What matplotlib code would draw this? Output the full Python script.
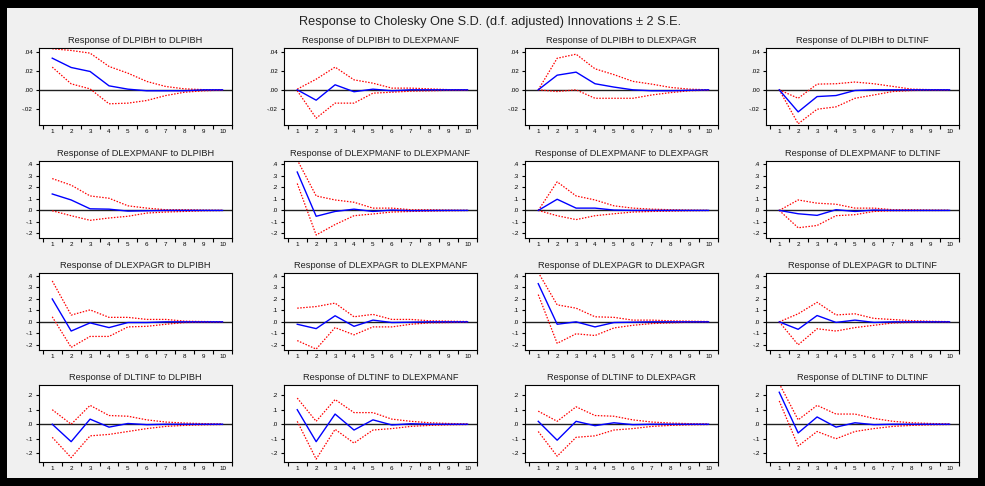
import matplotlib
matplotlib.use("Agg")
import matplotlib.pyplot as plt
from matplotlib.patches import Rectangle

plt.rcParams['font.family'] = ['Liberation Sans', 'DejaVu Sans']

variables = ["DLPIBH", "DLEXPMANF", "DLEXPAGR", "DLTINF"]
periods = [1, 2, 3, 4, 5, 6, 7, 8, 9, 10]
main_title = "Response to Cholesky One S.D. (d.f. adjusted) Innovations \u00b1 2 S.E."

# responses (rows: impulse variable in the order of `variables`)
resp_DLPIBH = [
    [0.0333, 0.0235, 0.0193, 0.0042, 0.0007, -0.001, -0.001, -0.001, 0.0, 0.0],
    [0.0, -0.0109, 0.0053, -0.002, 0.0007, -0.001, 0.0, 0.0, 0.0, 0.0],
    [0.0, 0.0154, 0.0186, 0.0064, 0.0029, 0.0, -0.001, -0.001, -0.0005, 0.0],
    [0.0, -0.0232, -0.0071, -0.006, -0.0007, 0.0, 0.0, 0.0, 0.0, 0.0],
]
upper_DLPIBH = [
    [0.0432, 0.0414, 0.0386, 0.0246, 0.0175, 0.0088, 0.0035, 0.001, 0.0002, 0.0],
    [0.0007, 0.0112, 0.0239, 0.0105, 0.007, 0.0018, 0.0018, 0.001, 0.0002, 0.0],
    [0.0, 0.0332, 0.0375, 0.0221, 0.016, 0.0089, 0.006, 0.0025, 0.0007, 0.0],
    [0.0, -0.0089, 0.006, 0.0064, 0.0082, 0.0064, 0.0036, 0.0007, 0.0002, 0.0],
]
lower_DLPIBH = [
    [0.0239, 0.0063, 0.001, -0.0147, -0.014, -0.0112, -0.006, -0.0025, -0.001, -0.0003],
    [-0.001, -0.0298, -0.014, -0.014, -0.0035, -0.0025, -0.0014, -0.001, -0.0005, -0.0003],
    [0.0, -0.0018, 0.0, -0.0089, -0.0089, -0.0089, -0.0054, -0.0029, -0.001, -0.0003],
    [0.0, -0.0357, -0.0204, -0.0179, -0.0089, -0.0054, -0.0018, -0.0007, -0.0003, -0.0002],
]

resp_DLEXPMANF = [
    [0.143, 0.091, 0.014, 0.011, -0.006, -0.003, 0.0, 0.0, 0.0, 0.0],
    [0.334, -0.051, -0.009, 0.011, -0.009, 0.003, -0.002, -0.001, 0.0, 0.0],
    [0.0, 0.097, 0.02, 0.02, 0.003, 0.0, 0.0, 0.0, 0.0, 0.0],
    [0.0, -0.029, -0.043, 0.006, -0.009, 0.003, 0.0, 0.0, 0.0, 0.0],
]
upper_DLEXPMANF = [
    [0.277, 0.22, 0.126, 0.106, 0.04, 0.02, 0.006, 0.006, 0.003, 0.001],
    [0.44, 0.126, 0.091, 0.071, 0.02, 0.02, 0.006, 0.006, 0.003, 0.001],
    [0.0, 0.249, 0.126, 0.091, 0.04, 0.02, 0.011, 0.006, 0.003, 0.001],
    [0.0, 0.091, 0.063, 0.054, 0.02, 0.02, 0.006, 0.006, 0.003, 0.001],
]
lower_DLEXPMANF = [
    [-0.003, -0.046, -0.086, -0.066, -0.051, -0.023, -0.014, -0.009, -0.003, -0.001],
    [0.234, -0.214, -0.123, -0.046, -0.031, -0.014, -0.009, -0.006, -0.003, -0.001],
    [0.0, -0.046, -0.08, -0.046, -0.029, -0.014, -0.009, -0.006, -0.003, -0.001],
    [0.0, -0.151, -0.131, -0.046, -0.037, -0.009, -0.003, -0.002, -0.001, 0.0],
]

resp_DLEXPAGR = [
    [0.199, -0.08, -0.009, -0.05, -0.006, -0.006, 0.0, 0.0, 0.0, 0.0],
    [-0.021, -0.059, 0.053, -0.039, 0.015, -0.006, -0.003, 0.0, 0.0, 0.0],
    [0.332, -0.021, 0.0, -0.044, -0.006, -0.003, 0.0, 0.0, 0.0, 0.0],
    [0.0, -0.065, 0.055, -0.005, 0.015, -0.005, 0.0, 0.0, 0.0, 0.0],
]
upper_DLEXPAGR = [
    [0.356, 0.059, 0.104, 0.039, 0.039, 0.021, 0.021, 0.006, 0.003, 0.001],
    [0.119, 0.133, 0.163, 0.044, 0.065, 0.021, 0.021, 0.009, 0.006, 0.003],
    [0.43, 0.148, 0.119, 0.044, 0.039, 0.015, 0.015, 0.009, 0.006, 0.003],
    [0.0, 0.07, 0.17, 0.06, 0.07, 0.03, 0.02, 0.01, 0.005, 0.002],
]
lower_DLEXPAGR = [
    [0.044, -0.222, -0.127, -0.127, -0.044, -0.039, -0.021, -0.006, -0.003, -0.001],
    [-0.163, -0.237, -0.05, -0.113, -0.044, -0.044, -0.021, -0.009, -0.006, -0.003],
    [0.237, -0.187, -0.104, -0.119, -0.053, -0.03, -0.015, -0.009, -0.003, -0.001],
    [0.0, -0.2, -0.06, -0.08, -0.05, -0.03, -0.01, -0.005, -0.002, -0.001],
]

resp_DLTINF = [
    [0.0, -0.12, 0.035, -0.02, 0.005, -0.003, 0.0, 0.0, 0.0, 0.0],
    [0.1, -0.12, 0.07, -0.04, 0.03, -0.005, 0.003, 0.0, 0.0, 0.0],
    [0.02, -0.11, 0.02, -0.01, 0.01, -0.003, 0.0, 0.0, 0.0, 0.0],
    [0.22, -0.06, 0.05, -0.02, 0.01, -0.003, 0.0, 0.0, 0.0, 0.0],
]
upper_DLTINF = [
    [0.1, 0.0, 0.13, 0.06, 0.055, 0.03, 0.015, 0.008, 0.004, 0.002],
    [0.18, 0.02, 0.17, 0.08, 0.08, 0.035, 0.02, 0.01, 0.005, 0.002],
    [0.09, 0.02, 0.12, 0.06, 0.055, 0.03, 0.015, 0.008, 0.004, 0.002],
    [0.28, 0.03, 0.13, 0.07, 0.07, 0.04, 0.02, 0.01, 0.005, 0.002],
]
lower_DLTINF = [
    [-0.09, -0.23, -0.08, -0.07, -0.05, -0.03, -0.015, -0.008, -0.004, -0.002],
    [0.02, -0.24, -0.035, -0.13, -0.04, -0.03, -0.015, -0.008, -0.004, -0.002],
    [-0.05, -0.22, -0.09, -0.08, -0.04, -0.03, -0.015, -0.008, -0.004, -0.002],
    [0.16, -0.15, -0.05, -0.1, -0.05, -0.03, -0.015, -0.008, -0.004, -0.002],
]

yticks_row1 = [0.04, 0.02, 0.0, -0.02]
yticklabels_row1 = [".04", ".02", ".00", "-.02"]
yticks_row23 = [0.4, 0.3, 0.2, 0.1, 0.0, -0.1, -0.2]
yticklabels_row23 = [".4", ".3", ".2", ".1", ".0", "-.1", "-.2"]
yticks_row4 = [0.2, 0.1, 0.0, -0.1, -0.2]
yticklabels_row4 = [".2", ".1", ".0", "-.1", "-.2"]

resp_all = [resp_DLPIBH, resp_DLEXPMANF, resp_DLEXPAGR, resp_DLTINF]
upper_all = [upper_DLPIBH, upper_DLEXPMANF, upper_DLEXPAGR, upper_DLTINF]
lower_all = [lower_DLPIBH, lower_DLEXPMANF, lower_DLEXPAGR, lower_DLTINF]
ylims = [(-0.037, 0.044), (-0.24, 0.43), (-0.245, 0.425), (-0.26, 0.27)]
yticks_rows = [(yticks_row1, yticklabels_row1), (yticks_row23, yticklabels_row23),
               (yticks_row23, yticklabels_row23), (yticks_row4, yticklabels_row4)]

W, H = 985, 486
fig = plt.figure(figsize=(W / 100, H / 100), dpi=100)
fig.patch.set_facecolor("black")
fig.add_artist(Rectangle((7 / W, 8 / H), (978 - 7) / W, (478 - 8) / H,
                         transform=fig.transFigure, facecolor="#f0f0f0",
                         edgecolor="none", zorder=0))

fig.text(490 / W, 1 - 22 / H, main_title, ha="center", va="center",
         fontsize=9.2, color="#222222")

col_left = [39, 284, 525, 766]
row_top = [48, 161, 273, 385]
ax_w, ax_h = 193, 77

for r in range(4):
    for c in range(4):
        ax = fig.add_axes([col_left[c] / W, 1 - (row_top[r] + ax_h) / H, ax_w / W, ax_h / H])
        ax.set_facecolor("white")
        ax.axhline(0, color="#202020", lw=1.0, zorder=1)
        ax.plot(periods, upper_all[r][c], color="#ff0000", lw=0.9, ls=(0, (1.2, 1.2)), zorder=2)
        ax.plot(periods, lower_all[r][c], color="#ff0000", lw=0.9, ls=(0, (1.2, 1.2)), zorder=2)
        ax.plot(periods, resp_all[r][c], color="#0000ff", lw=1.0, zorder=3)
        ax.set_xlim(0.3, 10.5)
        ax.set_ylim(*ylims[r])
        ax.set_xticks([p - 0.5 for p in periods] + [10.5])
        ax.set_xticklabels([])
        ax.set_xticks(periods, minor=True)
        ax.set_xticklabels([str(p) for p in periods], minor=True)
        ax.tick_params(axis="x", which="major", direction="out", length=3, width=0.8)
        ax.tick_params(axis="x", which="minor", length=0, labelsize=4.5, pad=3)
        yt, ytl = yticks_rows[r]
        ax.set_yticks(yt)
        ax.set_yticklabels(ytl)
        ax.tick_params(axis="y", direction="out", length=2.5, width=0.8, labelsize=4.5, pad=2)
        for s in ax.spines.values():
            s.set_linewidth(0.8)
            s.set_color("black")
        ax.set_title("Response of %s to %s" % (variables[r], variables[c]),
                     fontsize=6.7, pad=3.5, color="#222222")

fig.savefig("out.png", dpi=100, facecolor=fig.get_facecolor())
